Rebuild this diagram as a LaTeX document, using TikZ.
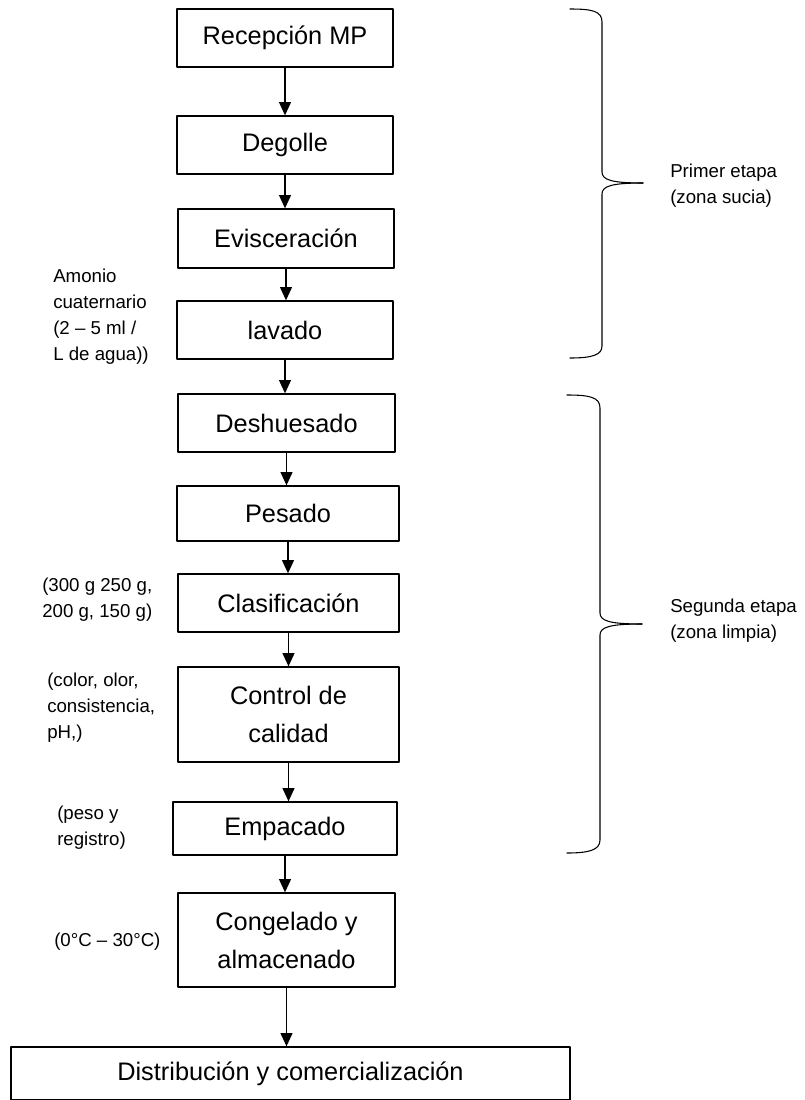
\documentclass[tikz,border=0pt]{standalone}
\usepackage{fontspec}
\setmainfont{Liberation Sans}
\usetikzlibrary{arrows.meta}
\begin{document}
\begin{tikzpicture}[x=0.75pt,y=-0.75pt,>={Triangle[length=10pt,width=9pt]},line cap=round,line join=round,
  procbox/.style={draw,line width=1pt,inner sep=0pt,align=center,font=\fontsize{19}{28.5}\selectfont},
  note/.style={anchor=west,inner sep=0pt,align=left,font=\fontsize{14}{19.5}\selectfont},
  flow/.style={->,line width=1pt}]
  \useasboundingbox (0,0) rectangle (804,1100);
  % etapas del proceso
  \node[procbox,minimum width=162pt,minimum height=43.5pt] (recep) at (285,38) {Recepción MP};
  \node[procbox,minimum width=162pt,minimum height=43.5pt] (degol) at (285,145) {Degolle};
  \node[procbox,minimum width=162pt,minimum height=44.25pt] (evisc) at (286,238.5) {Evisceración};
  \node[procbox,minimum width=162pt,minimum height=43.5pt] (lavad) at (285,330) {lavado};
  \node[procbox,minimum width=162.75pt,minimum height=43.5pt] (deshu) at (286.5,423) {Deshuesado};
  \node[procbox,minimum width=166.5pt,minimum height=41.25pt] (pesad) at (288,513.5) {Pesado};
  \node[procbox,minimum width=165.75pt,minimum height=43.5pt] (clasi) at (288.5,603) {Clasificación};
  \node[procbox,minimum width=165.75pt,minimum height=71.25pt] (contr) at (288.5,714.5) {Control de\\calidad};
  \node[procbox,minimum width=168pt,minimum height=39.75pt] (empac) at (285,828.5) {Empacado};
  \node[procbox,minimum width=162.75pt,minimum height=70.5pt] (conge) at (286.5,940) {Congelado y\\almacenado};
  \node[procbox,minimum width=419.25pt,minimum height=39.75pt] (distr) at (290.5,1073.5) {Distribución y comercialización};
  \foreach \a/\b in {recep/degol,degol/evisc,evisc/lavad,lavad/deshu,deshu/pesad,pesad/clasi,clasi/contr,contr/empac,empac/conge,conge/distr}
    \draw[flow] (\a.south) -- (\a.south |- \b.north);
  % notas laterales
  \node[note] (amon) at (53,317) {Amonio\\cuaternario\\(2 – 5 ml /\\L de agua))};
  \node[note] (gram) at (42,600) {(300 g 250 g,\\200 g, 150 g)};
  \node[note] (sens) at (47,708) {(color, olor,\\consistencia,\\pH,)};
  \node[note] (regi) at (57,828) {(peso y\\registro)};
  \node[note] (temp) at (54,942) {(0°C – 30°C)};
  % llaves de zonas
  \draw[line width=0.8pt] (570,9) .. controls (592,9) and (602,11) .. (602,22) -- (602,172)
    .. controls (602,180) and (612,183) .. (643,183);
  \draw[line width=0.8pt] (643,183) .. controls (612,183) and (602,186) .. (602,194) -- (602,346)
    .. controls (602,355) and (592,358) .. (570,358);
  \draw[line width=0.8pt] (567,395) .. controls (589,395) and (600,397) .. (600,408) -- (600,613)
    .. controls (600,621) and (610,624) .. (642,624);
  \draw[line width=0.8pt] (642,624) .. controls (610,624) and (600,627) .. (600,635) -- (600,840)
    .. controls (600,850) and (589,853) .. (567,853);
  \node[note] (zona1) at (670,186) {Primer etapa\\(zona sucia)};
  \node[note] (zona2) at (670,621) {Segunda etapa\\(zona limpia)};
\end{tikzpicture}
\end{document}
